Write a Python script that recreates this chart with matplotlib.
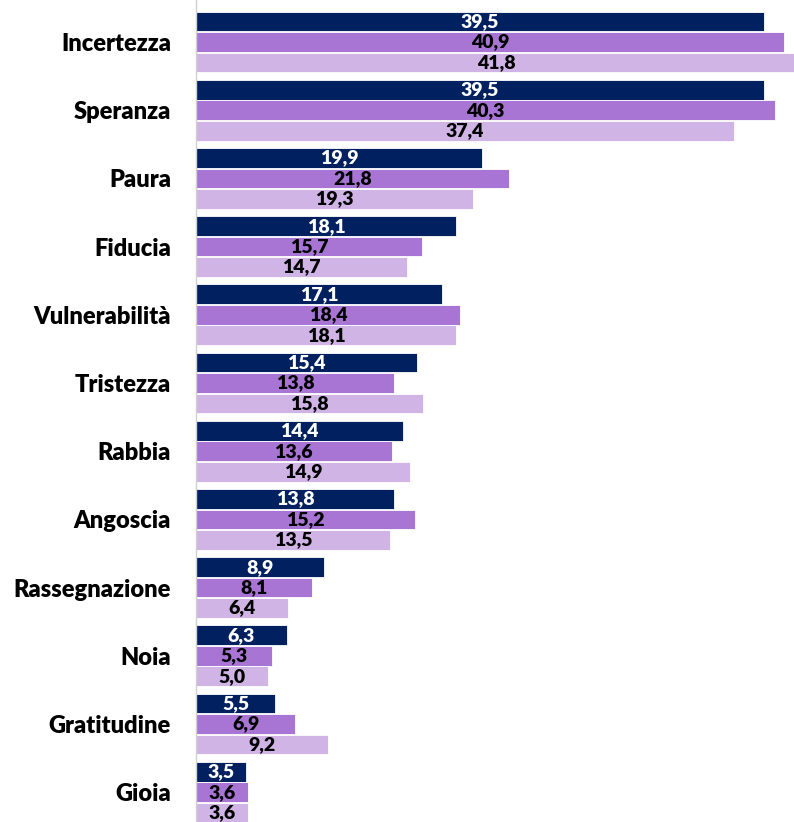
import numpy as np
import matplotlib.pyplot as plt

categories = ["Incertezza", "Speranza", "Paura", "Fiducia", "Vulnerabilità",
              "Tristezza", "Rabbia", "Angoscia", "Rassegnazione", "Noia",
              "Gratitudine", "Gioia"]
serie_1 = [39.5, 39.5, 19.9, 18.1, 17.1, 15.4, 14.4, 13.8, 8.9, 6.3, 5.5, 3.5]
serie_2 = [40.9, 40.3, 21.8, 15.7, 18.4, 13.8, 13.6, 15.2, 8.1, 5.3, 6.9, 3.6]
serie_3 = [41.8, 37.4, 19.3, 14.7, 18.1, 15.8, 14.9, 13.5, 6.4, 5.0, 9.2, 3.6]

colors = ["#002060", "#A875D4", "#D0B4E6"]
text_colors = ["white", "black", "black"]

plt.rcParams["font.family"] = ["Lato", "DejaVu Sans"]

fig = plt.figure(figsize=(7.94, 8.22), dpi=100)
ax = fig.add_axes([196 / 794, 0, (794 - 196) / 794, 1])

y = np.arange(len(categories))
h = 0.29
offsets = [-0.3, 0, 0.3]
for k, vals in enumerate([serie_1, serie_2, serie_3]):
    ax.barh(y + offsets[k], vals, height=h, color=colors[k],
            edgecolor="white", linewidth=0.6)
    for yi, v in zip(y, vals):
        ax.text(v / 2, yi + offsets[k], f"{v:.1f}".replace(".", ","),
                ha="center", va="center", fontsize=14, fontweight="heavy",
                color=text_colors[k])

ax.set_xlim(0, 41.6)
ax.set_ylim(11.437, -0.616)
ax.set_yticks(y)
ax.set_yticklabels(categories, fontsize=17, fontweight="heavy")
ax.tick_params(axis="y", length=0, pad=18)
ax.set_xticks([])
for s in ["top", "right", "bottom"]:
    ax.spines[s].set_visible(False)
ax.spines["left"].set_color("#D0D0D0")
ax.spines["left"].set_linewidth(1)

fig.savefig("out.png", dpi=100)
